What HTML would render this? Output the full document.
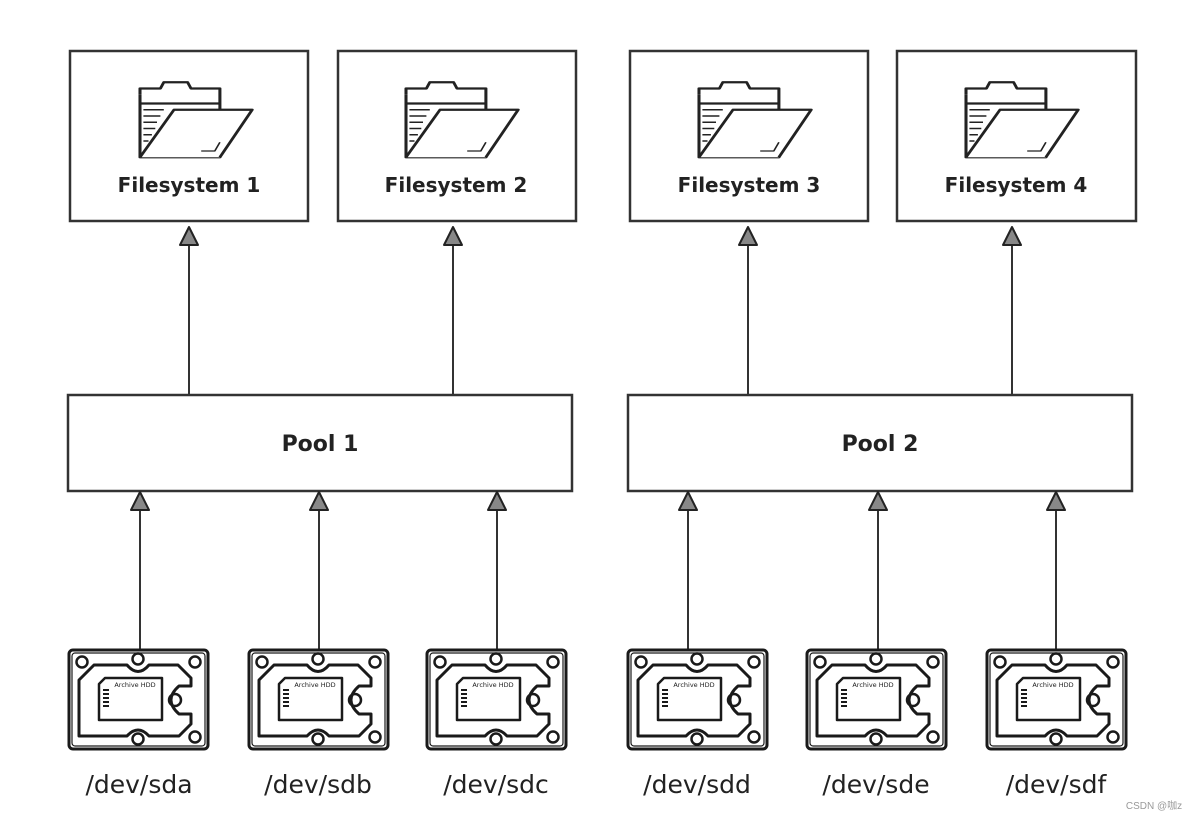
<!DOCTYPE html>
<html><head><meta charset="utf-8"><style>
body{margin:0;background:#fff;}
svg{display:block}
text{font-family:"DejaVu Sans","Liberation Sans",sans-serif;fill:#222;}
</style></head><body>
<svg width="1193" height="821" viewBox="0 0 1193 821" xmlns="http://www.w3.org/2000/svg">
<defs>
<g id="folder" fill="none" stroke="#222" stroke-linejoin="round">
 <g transform="scale(1.7,1.25)" stroke-width="1.8">
  <path d="M0,15 L0,65 L47,65 L47,18"/>
  <path d="M0,15 L0,10 L12,10 L14,5 L28,5 L30,10 L47,10 L47,18"/>
  <path d="M0,22 L47,22"/>
  <path d="M0,65 L20,27 L66,27 L47,65" fill="#fff"/>
  <path d="M2,27 L14,27 M2,32 L12,32 M2,37 L10,37 M2,42 L9,42 M2,47 L7,47 M2,52 L5,52" stroke-width="1.2"/>
  <path d="M36,60 L44,60 L47,53" stroke-width="1"/>
 </g>
</g>
<g id="disk" fill="none" stroke="#1a1a1a" stroke-linejoin="round">
  <rect x="2" y="2" width="139" height="99" rx="4" stroke-width="3"/>
  <rect x="5" y="5" width="133" height="93" rx="3" stroke-width="1.2"/>
  <path d="M12,32 L27,17 L60,17 Q71,30 82,17 L111,17 L124,30 L124,38 L112,38 Q96,52 112,66 L124,66 L124,76 L112,88 L82,88 Q71,76 60,88 L12,88 Z" stroke-width="3"/>
  <circle cx="15" cy="14" r="5.5" stroke-width="2.5"/>
  <circle cx="128" cy="14" r="5.5" stroke-width="2.5"/>
  <circle cx="71" cy="11" r="5.5" stroke-width="2.5"/>
  <circle cx="71" cy="91" r="5.5" stroke-width="2.5"/>
  <circle cx="128" cy="89" r="5.5" stroke-width="2.5"/>
  <circle cx="108" cy="52" r="6" stroke-width="2.5"/>
  <path d="M32,36 L38,30 L95,30 L95,72 L32,72 Z" stroke-width="2.5"/>
  <path d="M36,42 h6 M36,46 h6 M36,50 h6 M36,54 h6 M36,58 h6" stroke-width="2"/>
  <text x="68" y="39" font-size="6.5" text-anchor="middle" stroke="none">Archive HDD</text>
</g>
<g id="ah"><path d="M0,0 L9,18 L-9,18 Z" fill="#888" stroke="#222" stroke-width="2" stroke-linejoin="round"/></g>
</defs>

<g fill="none" stroke="#333" stroke-width="2.5">
<rect x="70" y="51" width="238" height="170"/>
<rect x="338" y="51" width="238" height="170"/>
<rect x="630" y="51" width="238" height="170"/>
<rect x="897" y="51" width="239" height="170"/>
<rect x="68" y="395" width="504" height="96"/>
<rect x="628" y="395" width="504" height="96"/>
</g>
<use href="#folder" x="140" y="76"/>
<use href="#folder" x="406" y="76"/>
<use href="#folder" x="699" y="76"/>
<use href="#folder" x="966" y="76"/>
<g font-size="20" font-weight="bold" text-anchor="middle">
<text x="189" y="192">Filesystem 1</text>
<text x="456" y="192">Filesystem 2</text>
<text x="749" y="192">Filesystem 3</text>
<text x="1016" y="192">Filesystem 4</text>
</g>
<g font-size="22" font-weight="bold" text-anchor="middle">
<text x="320" y="451">Pool 1</text>
<text x="880" y="451">Pool 2</text>
</g>

<g stroke="#333" stroke-width="2">
<line x1="189" y1="240" x2="189" y2="395"/>
<line x1="453" y1="240" x2="453" y2="395"/>
<line x1="748" y1="240" x2="748" y2="395"/>
<line x1="1012" y1="240" x2="1012" y2="395"/>
<line x1="140" y1="505" x2="140" y2="650"/>
<line x1="319" y1="505" x2="319" y2="650"/>
<line x1="497" y1="505" x2="497" y2="650"/>
<line x1="688" y1="505" x2="688" y2="650"/>
<line x1="878" y1="505" x2="878" y2="650"/>
<line x1="1056" y1="505" x2="1056" y2="650"/>
</g>
<use href="#ah" x="189" y="227"/>
<use href="#ah" x="453" y="227"/>
<use href="#ah" x="748" y="227"/>
<use href="#ah" x="1012" y="227"/>
<use href="#ah" x="140" y="492"/>
<use href="#ah" x="319" y="492"/>
<use href="#ah" x="497" y="492"/>
<use href="#ah" x="688" y="492"/>
<use href="#ah" x="878" y="492"/>
<use href="#ah" x="1056" y="492"/>

<use href="#disk" x="67" y="648"/>
<use href="#disk" x="247" y="648"/>
<use href="#disk" x="425" y="648"/>
<use href="#disk" x="626" y="648"/>
<use href="#disk" x="805" y="648"/>
<use href="#disk" x="985" y="648"/>
<g font-size="25" text-anchor="middle">
<text x="139" y="793">/dev/sda</text>
<text x="318" y="793">/dev/sdb</text>
<text x="496" y="793">/dev/sdc</text>
<text x="697" y="793">/dev/sdd</text>
<text x="876" y="793">/dev/sde</text>
<text x="1056" y="793">/dev/sdf</text>
</g>
<text x="1154" y="809" font-size="10" text-anchor="middle" style="fill:#999;font-family:'Liberation Sans','Noto Sans CJK SC',sans-serif">CSDN @咖z</text>
</svg>
</body></html>
